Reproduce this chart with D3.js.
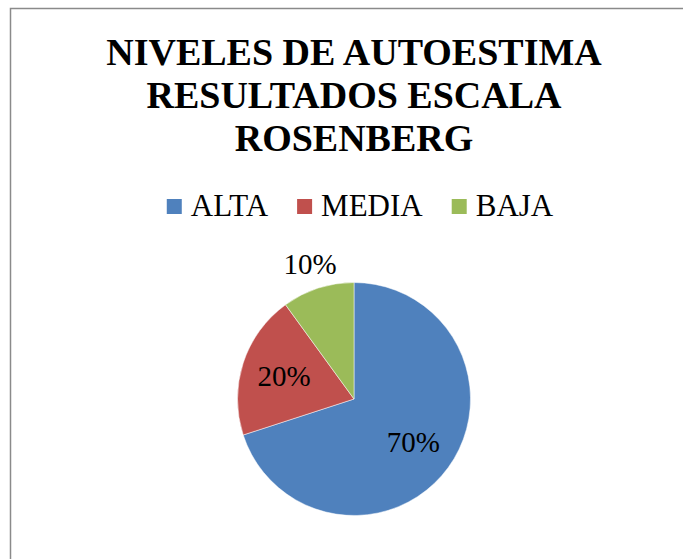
<!DOCTYPE html>
<html>
<head>
<meta charset="utf-8">
<script src="https://cdn.jsdelivr.net/npm/d3@7"></script>
<style>
  html, body { margin: 0; padding: 0; background: #fff; }
  svg { display: block; font-family: "Liberation Serif", "Times New Roman", serif; }
</style>
</head>
<body>
<div id="chart"></div>
<script>
const titleLines = ["NIVELES DE AUTOESTIMA", "RESULTADOS ESCALA", "ROSENBERG"];
const categories = ["ALTA", "MEDIA", "BAJA"];
const values = [70, 20, 10];
const colors = ["#4F81BD", "#C0504D", "#9BBB59"];

const width = 683, height = 559;
const cx = 354, cy = 399, radius = 116.5;

const svg = d3.select("#chart")
    .append("svg")
    .attr("width", width)
    .attr("height", height);

// chart frame (runs off the right and bottom of the picture)
svg.append("rect")
    .attr("x", 10.5)
    .attr("y", 8.5)
    .attr("width", 700)
    .attr("height", 600)
    .attr("fill", "#fff")
    .attr("stroke", "#8a8a8a")
    .attr("stroke-width", 1.5);

// title
svg.append("g")
    .selectAll("text")
    .data(titleLines)
    .join("text")
    .attr("x", 354)
    .attr("y", (d, i) => 65 + i * 43)
    .attr("text-anchor", "middle")
    .style("font-size", "38px")
    .style("font-weight", "bold")
    .text(d => d);

// legend
const legend = svg.append("g");
const items = legend.selectAll("g")
    .data(categories)
    .join("g");

items.append("rect")
    .attr("width", 15)
    .attr("height", 15)
    .attr("y", 199)
    .attr("fill", (d, i) => colors[i]);

items.append("text")
    .attr("x", 24)
    .attr("y", 216)
    .style("font-size", "31px")
    .text(d => d);

let xPos = 0;
const itemGap = 29;
items.each(function() {
    const w = 24 + d3.select(this).select("text").node().getComputedTextLength();
    d3.select(this).attr("transform", `translate(${xPos},0)`);
    xPos += w + itemGap;
});
const legendWidth = xPos - itemGap;
legend.attr("transform", `translate(${360 - legendWidth / 2},0)`);

// pie
const pie = d3.pie().sort(null).value(d => d);
const arcs = pie(values);

const arc = d3.arc().innerRadius(0).outerRadius(radius);

const pieG = svg.append("g")
    .attr("transform", `translate(${cx},${cy})`);

pieG.selectAll("path")
    .data(arcs)
    .join("path")
    .attr("d", arc)
    .attr("fill", (d, i) => colors[i])
    .attr("stroke", "#fff")
    .attr("stroke-width", 0.5);

// data labels: inside when they fit, outside for the small slice
const innerLabelArc = d3.arc().innerRadius(radius * 0.63).outerRadius(radius * 0.63);
const outerLabelArc = d3.arc().innerRadius(radius * 1.22).outerRadius(radius * 1.22);

pieG.selectAll("text")
    .data(arcs)
    .join("text")
    .attr("transform", d => {
        const c = (d.value < 15 ? outerLabelArc : innerLabelArc).centroid(d);
        return `translate(${c[0]},${c[1] + 10})`;
    })
    .attr("text-anchor", "middle")
    .style("font-size", "29px")
    .text(d => d.value + "%");
</script>
</body>
</html>
